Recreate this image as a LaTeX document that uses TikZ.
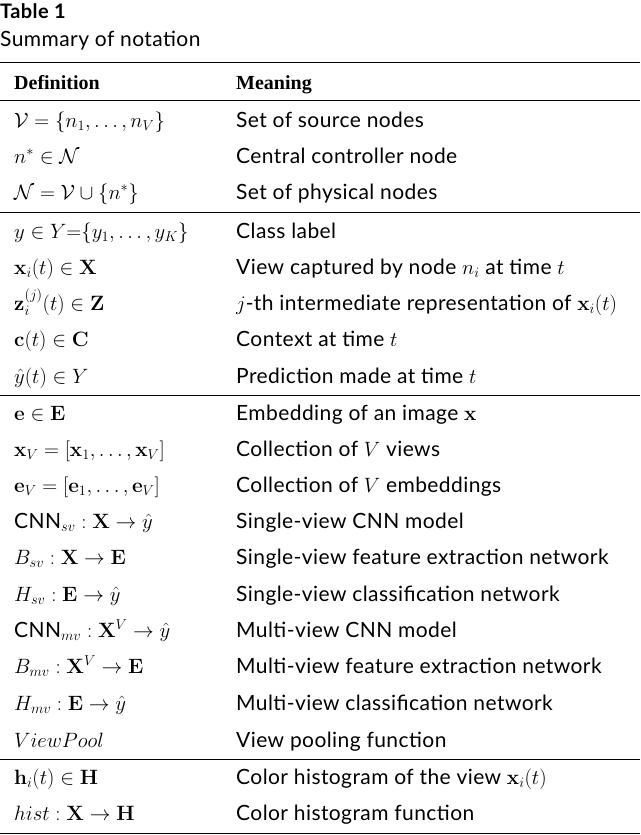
\documentclass[tikz,border=0pt]{standalone}
\usepackage{amsmath,amssymb}
\usepackage[no-math]{fontspec}
\setmainfont{Lato}[LetterSpace=2]
\newfontfamily\headfont{Liberation Serif}
\usetikzlibrary{positioning}

\begin{document}
\begin{tikzpicture}[x=1pt,y=-1pt,
  txt/.style={anchor=base west,inner sep=0pt,font=\fontsize{21}{24}\selectfont},
  head/.style={txt,font=\fontsize{20}{24}\headfont\bfseries},
  rule/.style={line width=0.8pt}]
\useasboundingbox (0,0) rectangle (640,835);
\node[txt,font=\fontsize{20}{24}\selectfont\bfseries] (title) at (0,18) {Table 1};
\node[txt] (caption) at (0,46) {Summary of notation};
\coordinate (tl) at (0,62); \coordinate (tr) at (640,62);
\draw[rule] (tl) -- (tr);
\node[head] (hdef) at (14,89) {Definition};
\node[head] (hmean) at (236,89) {Meaning};
\coordinate (r1l) at (0,100); \coordinate (r1r) at (640,100);
\draw[rule] (r1l) -- (r1r);
% physical nodes
\node[txt] (d1) at (14,127) {$\mathcal{V}=\{n_1,\dots,n_V\}$};
\node[txt] (m1) at (236,127) {Set of source nodes};
\node[txt] (d2) at (14,163) {$n^{*}\in\mathcal{N}$};
\node[txt] (m2) at (236,163) {Central controller node};
\node[txt] (d3) at (14,199) {$\mathcal{N}=\mathcal{V}\cup\{n^{*}\}$};
\node[txt] (m3) at (236,199) {Set of physical nodes};
\coordinate (r2l) at (0,212); \coordinate (r2r) at (640,212);
\draw[rule] (r2l) -- (r2r);
% views
\node[txt] (d4) at (14,238) {$y\in Y{=}\{y_1,\dots,y_K\}$};
\node[txt] (m4) at (236,238) {Class label};
\node[txt] (d5) at (14,274) {$\mathbf{x}_i(t)\in\mathbf{X}$};
\node[txt] (m5) at (236,274) {View captured by node $n_i$ at time $t$};
\node[txt] (d6) at (14,310) {$\mathbf{z}_i^{(j)}(t)\in\mathbf{Z}$};
\node[txt] (m6) at (236,310) {$j$-th intermediate representation of $\mathbf{x}_i(t)$};
\node[txt] (d7) at (14,346) {$\mathbf{c}(t)\in\mathbf{C}$};
\node[txt] (m7) at (236,346) {Context at time $t$};
\node[txt] (d8) at (14,383) {$\hat{y}(t)\in Y$};
\node[txt] (m8) at (236,383) {Prediction made at time $t$};
\coordinate (r3l) at (0,395); \coordinate (r3r) at (640,395);
\draw[rule] (r3l) -- (r3r);
% models
\node[txt] (d9) at (14,420) {$\mathbf{e}\in\mathbf{E}$};
\node[txt] (m9) at (236,420) {Embedding of an image $\mathbf{x}$};
\node[txt] (d10) at (14,456) {$\mathbf{x}_V=[\mathbf{x}_1,\dots,\mathbf{x}_V]$};
\node[txt] (m10) at (236,456) {Collection of $V$ views};
\node[txt] (d11) at (14,492) {$\mathbf{e}_V=[\mathbf{e}_1,\dots,\mathbf{e}_V]$};
\node[txt] (m11) at (236,492) {Collection of $V$ embeddings};
\node[txt] (d12) at (14,528) {CNN$_{sv}:\mathbf{X}\to\hat{y}$};
\node[txt] (m12) at (236,528) {Single-view CNN model};
\node[txt] (d13) at (14,564) {$B_{sv}:\mathbf{X}\to\mathbf{E}$};
\node[txt] (m13) at (236,564) {Single-view feature extraction network};
\node[txt] (d14) at (14,601) {$H_{sv}:\mathbf{E}\to\hat{y}$};
\node[txt] (m14) at (236,601) {Single-view classification network};
\node[txt] (d15) at (14,637) {CNN$_{mv}:\mathbf{X}^V\to\hat{y}$};
\node[txt] (m15) at (236,637) {Multi-view CNN model};
\node[txt] (d16) at (14,673) {$B_{mv}:\mathbf{X}^V\to\mathbf{E}$};
\node[txt] (m16) at (236,673) {Multi-view feature extraction network};
\node[txt] (d17) at (14,710) {$H_{mv}:\mathbf{E}\to\hat{y}$};
\node[txt] (m17) at (236,710) {Multi-view classification network};
\node[txt] (d18) at (14,747) {$ViewPool$};
\node[txt] (m18) at (236,747) {View pooling function};
\coordinate (r4l) at (0,759); \coordinate (r4r) at (640,759);
\draw[rule] (r4l) -- (r4r);
% histograms
\node[txt] (d19) at (14,784) {$\mathbf{h}_i(t)\in\mathbf{H}$};
\node[txt] (m19) at (236,784) {Color histogram of the view $\mathbf{x}_i(t)$};
\node[txt] (d20) at (14,820) {$hist:\mathbf{X}\to\mathbf{H}$};
\node[txt] (m20) at (236,820) {Color histogram function};
\coordinate (bl) at (0,833); \coordinate (br) at (640,833);
\draw[rule] (bl) -- (br);
\end{tikzpicture}
\end{document}
